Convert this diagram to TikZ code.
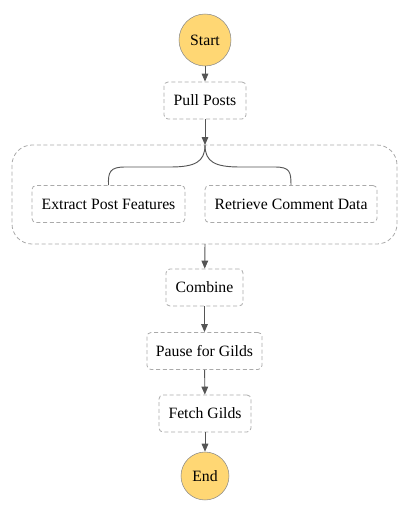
\documentclass[tikz,border=0pt]{standalone}
\usepackage{fontspec}
\setmainfont{Liberation Serif}
\usetikzlibrary{arrows.meta}

\definecolor{termfill}{HTML}{FFD774}
\definecolor{termline}{HTML}{8A8A8A}
\definecolor{boxline}{HTML}{AAAAAA}
\definecolor{flowline}{HTML}{555555}

\tikzset{
  terminal/.style={circle, draw=termline, fill=termfill, minimum size=39pt, inner sep=0pt},
  state/.style={draw=boxline, dashed, dash pattern=on 3pt off 2pt, rounded corners=3,
    minimum height=27.75pt, inner xsep=5pt, line width=0.6pt},
  flow/.style={draw=flowline, line width=0.7pt, -{Triangle[length=6pt,width=5pt]}}
}

\begin{document}
\begin{tikzpicture}[x=0.75pt, y=-0.75pt, font=\fontsize{11.8}{14}\selectfont]
  \useasboundingbox (0,0) rectangle (410,511);

  % start and end
  \node[terminal] (start) at (205,40) {Start};
  \node[terminal, minimum size=36pt] (stop) at (205,476) {End};

  % parallel container
  \draw[draw=boxline, dashed, dash pattern=on 3pt off 2pt, rounded corners=15, line width=0.6pt]
    (12,145) rectangle (397,244);
  \coordinate (forktop) at (205,145);
  \coordinate (forkbot) at (205,244);

  % states
  \node[state, minimum width=61.5pt] (pullposts) at (205,100.5) {Pull Posts};
  \node[state, minimum width=114.75pt] (extract) at (108.5,204) {Extract Post Features};
  \node[state, minimum width=129pt] (retrieve) at (291,204) {Retrieve Comment Data};
  \node[state, minimum width=57.75pt] (combine) at (204.5,287.5) {Combine};
  \node[state, minimum width=86.25pt] (pause) at (204.5,351) {Pause for Gilds};
  \node[state, minimum width=69pt] (fetch) at (205,413.5) {Fetch Gilds};

  % connectors
  \draw[flow] (start) -- (pullposts);
  \draw[flow] (pullposts) -- (forktop);
  \draw[draw=flowline, line width=0.7pt] (forktop)
    .. controls (205,162) and (195,167) .. (170,167) -- (125,167)
    .. controls (110,167) and (108,172) .. (extract.north);
  \draw[draw=flowline, line width=0.7pt] (forktop)
    .. controls (205,162) and (215,167) .. (240,167) -- (275,167)
    .. controls (290,167) and (291,172) .. (retrieve.north);
  \draw[flow] (forkbot) -- (combine);
  \draw[flow] (combine) -- (pause);
  \draw[flow] (pause) -- (fetch);
  \draw[flow] (fetch) -- (stop);
\end{tikzpicture}
\end{document}
